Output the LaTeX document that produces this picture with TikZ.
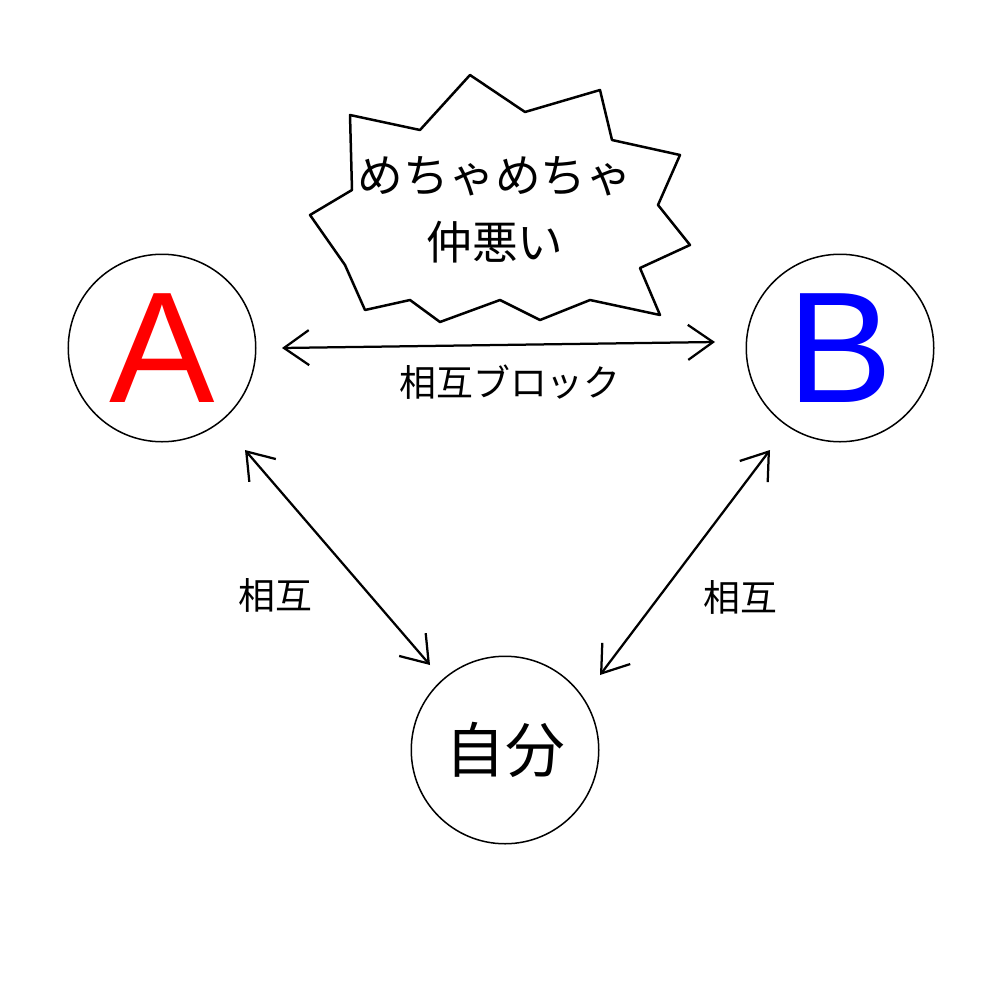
\documentclass[tikz,border=0pt]{standalone}
\usepackage{fontspec}
\newfontfamily\jfont{Noto Sans CJK JP}
\setmainfont{Liberation Sans}
\usetikzlibrary{arrows.meta}
\begin{document}
\begin{tikzpicture}
        [x=0.2mm, y=-0.2mm,
        person/.style={circle, draw=black, line width=0.3mm, minimum size=37.5mm, inner sep=0pt},
        arr/.style={{Straight Barb[length=5mm,width=7mm]}-{Straight Barb[length=5mm,width=7mm]}, line width=0.45mm},
        lbl/.style={font=\jfont\fontsize{21}{24}\selectfont}]
        \useasboundingbox (0,0) rectangle (1000,1000);
        \node (a) at (162,348) [person] {\fontsize{90}{90}\selectfont\color{red}A};
        \node (b) at (840,348) [person] {\fontsize{90}{90}\selectfont\color{blue}B};
        \node (me) at (505,750) [person] {\jfont\fontsize{34}{36}\selectfont 自分};
        % burst
        \draw[line width=0.5mm, line join=round] (310,215) -- (352,190) -- (350,115) -- (420,130)
           -- (470,75) -- (525,112) -- (600,90) -- (612,140) -- (680,155) -- (658,205)
           -- (690,245) -- (640,268) -- (660,315) -- (590,300) -- (540,320) -- (500,300)
           -- (440,322) -- (410,300) -- (365,310) -- (345,265) -- cycle;
        \node (bad) at (495,210) [align=center, font=\jfont\fontsize{26}{38}\selectfont] {めちゃめちゃ\\仲悪い};
        % arrows
        \coordinate (a1) at (282,348);
        \coordinate (b1) at (715,342);
        \coordinate (a2) at (245,450);
        \coordinate (m1) at (430,665);
        \coordinate (b2) at (770,450);
        \coordinate (m2) at (600,675);
        \draw[arr] (a1) -- (b1);
        \draw[arr] (a2) -- (m1);
        \draw[arr] (b2) -- (m2);
        \node (lab) at (510,382) [lbl] {相互ブロック};
        \node (lam) at (275,595) [lbl] {相互};
        \node (lbm) at (740,597) [lbl] {相互};
\end{tikzpicture}
\end{document}
